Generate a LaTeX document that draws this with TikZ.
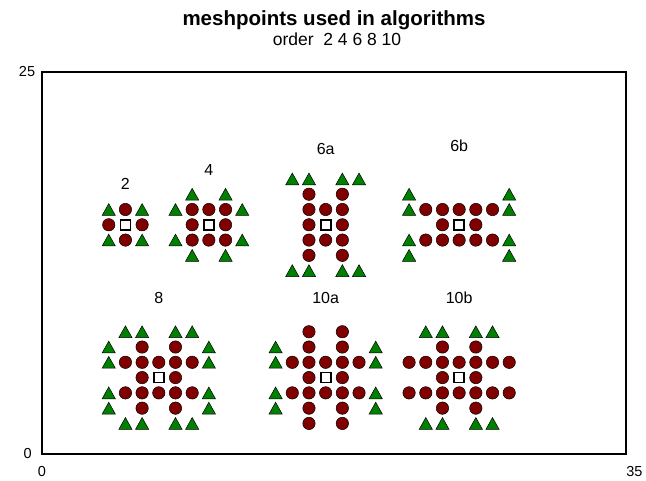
\documentclass[tikz,border=0pt]{standalone}
\usepackage{fontspec}
\setmainfont{Liberation Sans}
\definecolor{dotred}{RGB}{128,0,0}
\definecolor{trigreen}{RGB}{0,128,0}
\tikzset{
  circ/.style={fill=dotred,draw=black,line width=0.5pt},
  tri/.style={fill=trigreen,draw=black,line width=0.5pt,line join=miter},
  sq/.style={fill=white,draw=black,line width=1.8pt},
  frame/.style={draw=black,line width=1.8pt},
  lab/.style={font=\fontsize{16}{18}\selectfont,inner sep=0pt},
  ticklab/.style={font=\fontsize{14.5}{16}\selectfont,inner sep=0pt}
}
\newcommand{\mycirc}[2]{\draw[circ] (#1,#2) circle[radius=6.2pt];}
\newcommand{\mytri}[2]{\draw[tri] (#1,#2) ++(-6.6pt,-5.9pt) -- ++(13.2pt,0pt) -- ++(-6.6pt,11.8pt) -- cycle;}
\newcommand{\mysq}[2]{\draw[sq] (#1,#2) ++(-5pt,-5pt) rectangle ++(10pt,10pt);}
\begin{document}
\begin{tikzpicture}[x=1pt,y=1pt]
\useasboundingbox (0,0) rectangle (646,481);
\node[font=\bfseries\fontsize{20.5}{22}\selectfont,inner sep=0pt] (title) at (334,461) {meshpoints used in algorithms};
\node[font=\fontsize{17.5}{19}\selectfont,inner sep=0pt] (sub) at (337,442) {order\ \ 2 4 6 8 10};
\begin{scope}[shift={(42,27)},x=16.686pt,y=15.28pt]
  \draw[frame] (0,0) rectangle (35,25);
  \node[ticklab,anchor=east] (y0) at (-0.6,0) {0};
  \node[ticklab,anchor=east] (y25) at (-0.4,25) {25};
  \node[ticklab,anchor=base] (x0) at (0,-1.5) {0};
  \node[ticklab,anchor=base] (x35) at (35.5,-1.5) {35};
  % labels
  \node[lab] (l2) at (5,17.7) {2};
  \node[lab] (l4) at (10,18.6) {4};
  \node[lab] (l6a) at (17,19.95) {6a};
  \node[lab] (l6b) at (25,20.15) {6b};
  \node[lab] (l8) at (7,10.2) {8};
  \node[lab] (l10a) at (17,10.2) {10a};
  \node[lab] (l10b) at (25,10.2) {10b};
  % stencil 2
  \foreach \p/\q in {4/15,6/15,5/14,5/16} {\mycirc{\p}{\q}}
  \foreach \p/\q in {4/16,6/16,4/14,6/14} {\mytri{\p}{\q}}
  \mysq{5}{15}
  % stencil 4
  \foreach \p/\q in {9/16,10/16,11/16,9/15,11/15,9/14,10/14,11/14} {\mycirc{\p}{\q}}
  \foreach \p/\q in {9/17,11/17,8/16,12/16,8/14,12/14,9/13,11/13} {\mytri{\p}{\q}}
  \mysq{10}{15}
  % stencil 6a
  \foreach \q in {13,...,17} {\mycirc{16}{\q}\mycirc{18}{\q}}
  \foreach \p/\q in {17/16,17/14} {\mycirc{\p}{\q}}
  \foreach \p/\q in {15/18,16/18,18/18,19/18,15/12,16/12,18/12,19/12} {\mytri{\p}{\q}}
  \mysq{17}{15}
  % stencil 6b
  \foreach \p in {23,...,27} {\mycirc{\p}{16}\mycirc{\p}{14}}
  \foreach \p/\q in {24/15,26/15} {\mycirc{\p}{\q}}
  \foreach \p/\q in {22/17,22/16,22/14,22/13,28/17,28/16,28/14,28/13} {\mytri{\p}{\q}}
  \mysq{25}{15}
  % stencil 8
  \foreach \p in {5,...,9} {\mycirc{\p}{6}\mycirc{\p}{4}}
  \foreach \p/\q in {6/7,8/7,6/5,8/5,6/3,8/3} {\mycirc{\p}{\q}}
  \foreach \p/\q in {5/8,6/8,8/8,9/8,4/7,10/7,4/6,10/6,4/4,10/4,4/3,10/3,5/2,6/2,8/2,9/2} {\mytri{\p}{\q}}
  \mysq{7}{5}
  % stencil 10a
  \foreach \q in {2,...,8} {\mycirc{16}{\q}\mycirc{18}{\q}}
  \foreach \p/\q in {15/6,17/6,19/6,15/4,17/4,19/4} {\mycirc{\p}{\q}}
  \foreach \p/\q in {14/7,14/6,14/4,14/3,20/7,20/6,20/4,20/3} {\mytri{\p}{\q}}
  \mysq{17}{5}
  % stencil 10b
  \foreach \p in {22,...,28} {\mycirc{\p}{6}\mycirc{\p}{4}}
  \foreach \p/\q in {24/7,26/7,24/5,26/5,24/3,26/3} {\mycirc{\p}{\q}}
  \foreach \p/\q in {23/8,24/8,26/8,27/8,23/2,24/2,26/2,27/2} {\mytri{\p}{\q}}
  \mysq{25}{5}
\end{scope}
\end{tikzpicture}
\end{document}
